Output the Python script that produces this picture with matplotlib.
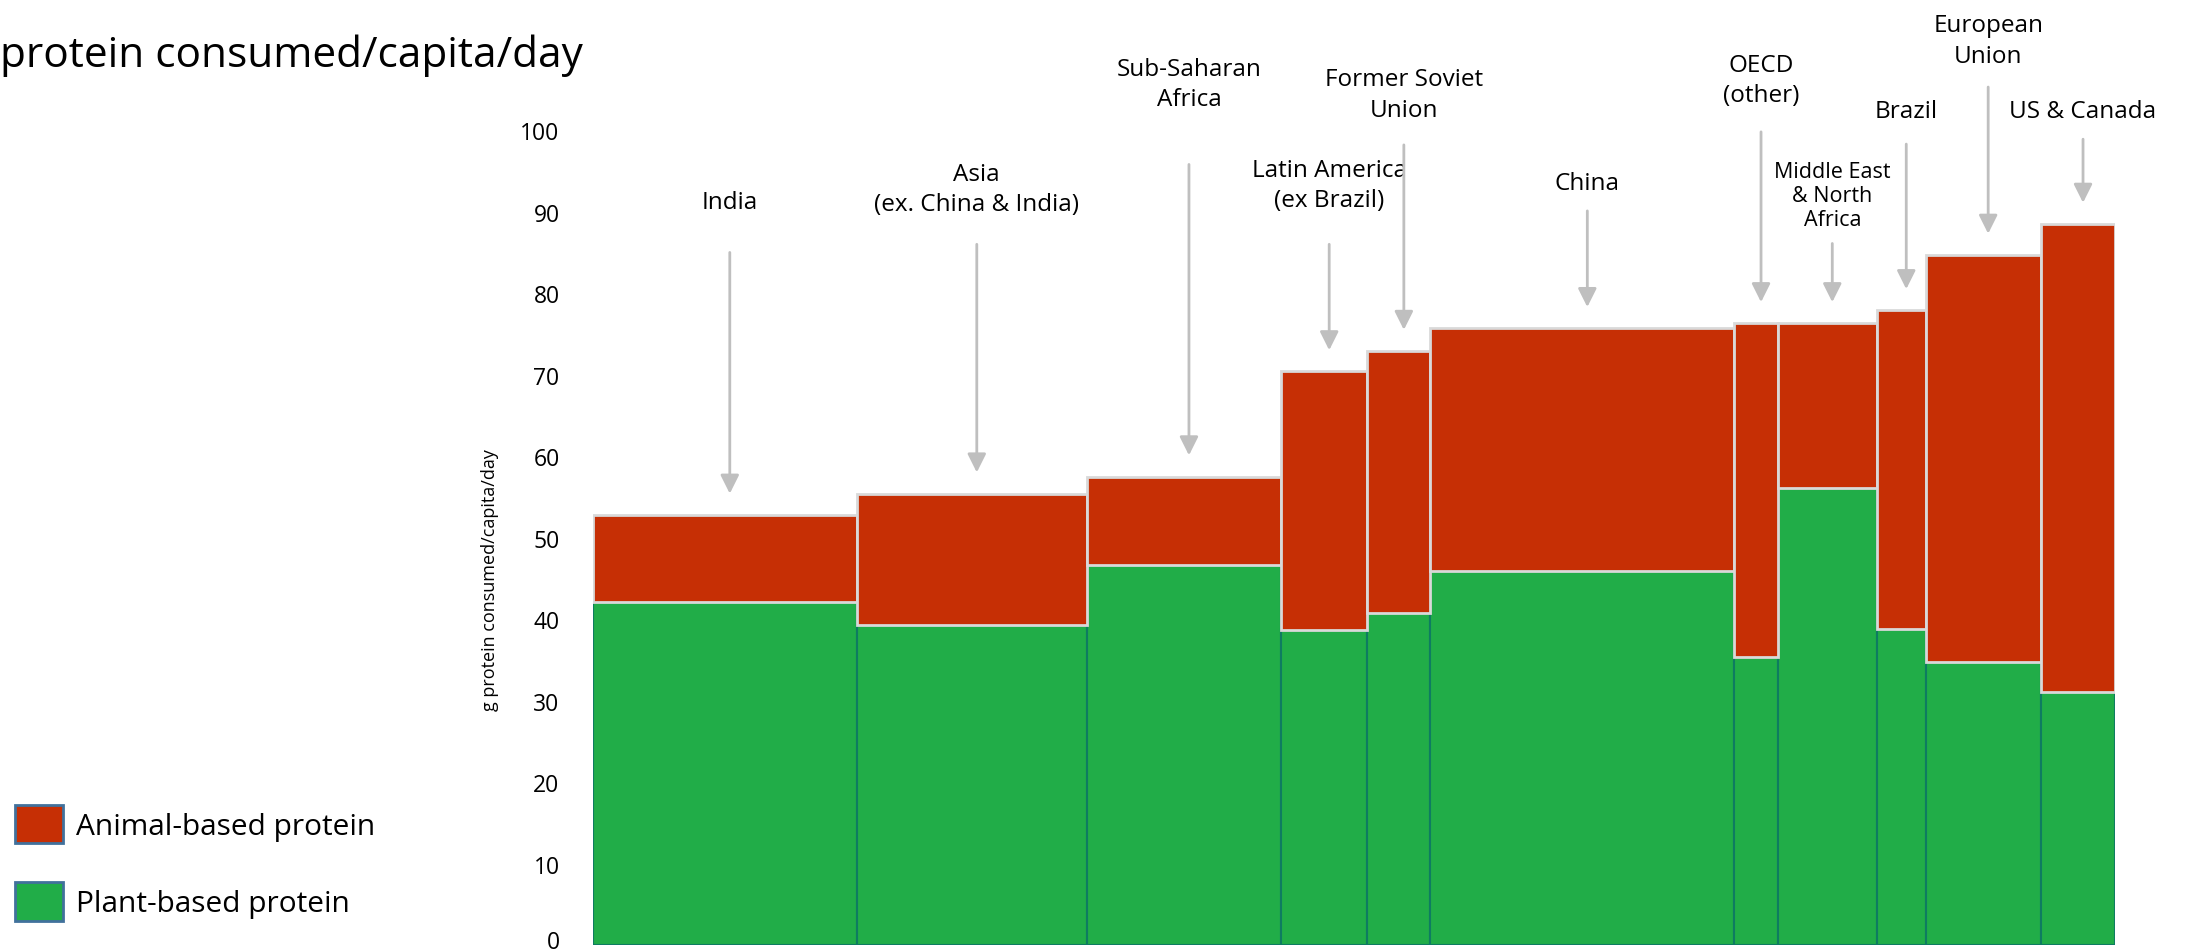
import matplotlib
matplotlib.use("Agg")
import matplotlib.pyplot as plt
from matplotlib.patches import Patch
from matplotlib.transforms import offset_copy, ScaledTranslation
import numpy as np

plt.rcParams['font.family'] = ['Open Sans', 'DejaVu Sans']

# regions, left to right (bar width ~ population, millions)
regions = ["India", "Asia\n(ex. China & India)", "Sub-Saharan\nAfrica",
           "Latin America\n(ex Brazil)", "Former Soviet\nUnion", "China",
           "OECD\n(other)", "Middle East\n& North\nAfrica", "Brazil",
           "European\nUnion", "US & Canada"]
population_m = [1162, 1015, 855, 381, 277, 1340, 191, 437, 215, 507, 329]
plant_protein = [42.1, 39.3, 46.6, 38.7, 40.8, 45.9, 35.4, 56.1, 38.8, 34.7, 31.0]
animal_protein = [10.7, 16.1, 10.9, 31.7, 32.1, 29.8, 40.9, 20.2, 39.1, 50.0, 57.5]

# where the labels / arrow tails sit (y in g/capita/day units)
label_y = [91.2, 92.8, 105.7, 93.3, 104.4, 93.5, 106.2, 92.0, 102.4, 111.0, 102.4]
arrow_from = [85.0, 86.0, 95.8, 86.0, 98.2, 90.1, 99.8, 86.1, 98.3, 105.3, 98.9]

red = '#C62F05'
green = '#21AD48'

fig = plt.figure(figsize=(21.88, 9.53), dpi=100)
ax = fig.add_axes([0.271, 0.0073, 0.6958, 0.855])

widths = np.array(population_m)
lefts = np.concatenate([[0], np.cumsum(widths)[:-1]])
plant = np.array(plant_protein)
animal = np.array(animal_protein)

ax.bar(lefts, plant, width=widths, align='edge', color=green,
       edgecolor='#0E7C61', linewidth=1.5)
ax.bar(lefts, animal, width=widths, bottom=plant, align='edge', color=red,
       edgecolor='#D9D9D9', linewidth=2)

ax.set_xlim(0, widths.sum())
ax.set_ylim(0, 100)
ax.set_yticks(range(0, 101, 10))
ax.set_xticks([])
ax.tick_params(axis='y', length=0, pad=24, labelsize=16.5)
for s in ax.spines.values():
    s.set_visible(False)

# the "0" sits a bit higher so it stays inside the picture
lab0 = ax.yaxis.get_major_ticks()[0].label1
lab0.set_transform(lab0.get_transform() + ScaledTranslation(0, 6 / 100, fig.dpi_scale_trans))

ax.text(-0.0677, 0.449, "g protein consumed/capita/day", transform=ax.transAxes,
        rotation=90, ha='center', va='center', fontsize=13)

# labels + arrows, nudged a little to the right like the original
shifted = offset_copy(ax.transData, fig=fig, x=5, y=0, units='dots')
centers = lefts + widths / 2
totals = plant + animal
for i, name in enumerate(regions):
    small = name.startswith("Middle East")
    ax.text(centers[i], label_y[i], name, transform=shifted, ha='center',
            va='center', fontsize=15.5 if small else 17.5,
            linespacing=1.2 if small else 1.35, clip_on=False)
    ax.annotate('', xy=(centers[i], totals[i] + 2.6), xycoords=shifted,
                xytext=(centers[i], arrow_from[i]), textcoords=shifted,
                arrowprops=dict(arrowstyle='-|>', color='#BFBFBF', lw=2,
                                mutation_scale=28, shrinkA=0, shrinkB=0),
                annotation_clip=False)

fig.text(0.0, 1 - 67 / 953, "protein consumed/capita/day", fontsize=30.5,
         ha='left', va='baseline')

handles = [Patch(facecolor=red, edgecolor='#41719C', linewidth=2),
           Patch(facecolor=green, edgecolor='#41719C', linewidth=2)]
fig.legend(handles, ["Animal-based protein", "Plant-based protein"],
           loc='upper left', bbox_to_anchor=(15 / 2188, 1 - 806 / 953),
           frameon=False, fontsize=21.5, handlelength=1.6, handleheight=1.6,
           handletextpad=0.45, labelspacing=1.3, borderpad=0, borderaxespad=0)

fig.savefig("out.png", dpi=100)
